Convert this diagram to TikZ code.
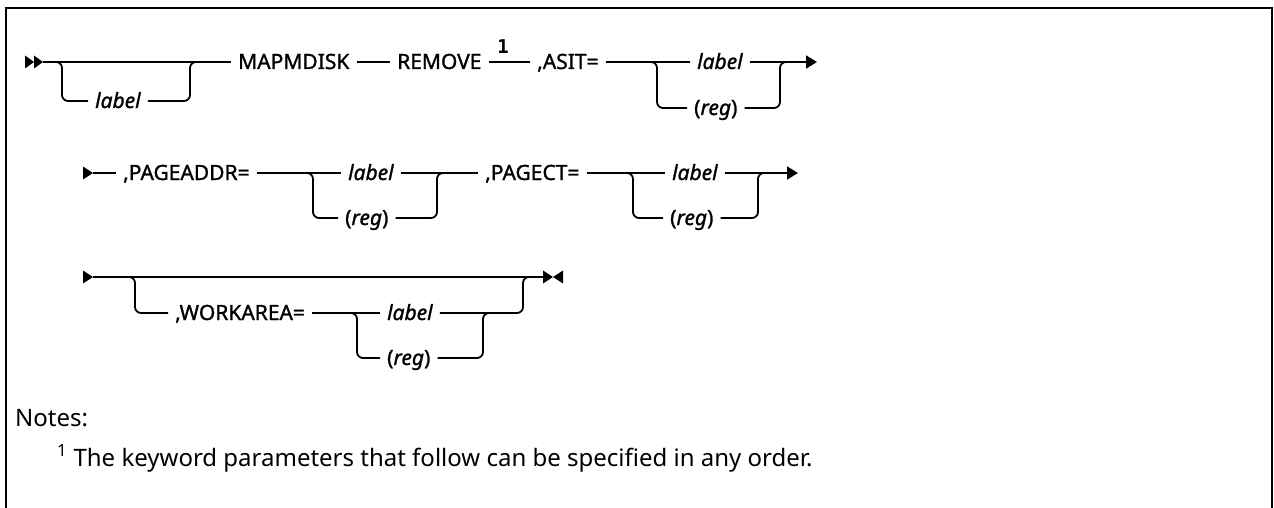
\documentclass[tikz,border=0pt]{standalone}
\usepackage{fontspec}
\setmainfont{Noto Sans}
\newfontfamily\dfont{Noto Sans}[FakeBold=1.2]
\newfontfamily\monofnt{DejaVu Sans Mono}
\usetikzlibrary{arrows.meta}
\begin{document}
\begin{tikzpicture}[x=1pt,y=-1pt,
  rr/.style={line width=1.8pt, rounded corners=6pt},
  kw/.style={inner xsep=7pt, inner ysep=0pt, anchor=base west, font=\fontsize{21}{24}\dfont},
  var/.style={kw, font=\fontsize{21}{24}\dfont\itshape},
  endarrow/.style={-{Triangle[length=11pt,width=13pt]}},
  notetext/.style={anchor=base west, inner sep=0pt, font=\fontsize{24}{28}\selectfont}]
\useasboundingbox (0,0) rectangle (1274,508);
% frame
\draw[line width=2.5pt] (6,508) -- (6,8) -- (1272,8) -- (1272,508);

% ---------- row 1 ----------
\coordinate (r1) at (0,62);
\coordinate (st1) at (25,62);
\coordinate (st1b) at (43,62);
\fill (st1) ++(0,-6.5) -- ++(9,6.5) -- ++(-9,6.5) -- cycle;
\fill (st1) ++(9,-6.5) -- ++(9,6.5) -- ++(-9,6.5) -- cycle;

\node[var] (l1) at (88,108) {label};
\node[kw] (mapm) at (231,69) {MAPMDISK};
\node[kw] (remove) at (390,69) {REMOVE};
\node[inner sep=0pt, anchor=base, font=\fontsize{19}{20}\selectfont\monofnt\bfseries] (n1) at (503,54) {1};
\node[kw] (asit) at (530,69) {,ASIT=};
\node[var] (asl) at (690,69) {label};
\node[kw] (asr) at (687,115) {(\textit{reg})};

\draw[rr] (st1b) -- (mapm.west|-r1);
\coordinate (j1a) at (52,62); \coordinate (v1a) at (62,101);
\coordinate (v1b) at (190,101); \coordinate (j1b) at (198,62);
\draw[rr] (j1a) -| (v1a) -- (l1.west|-v1a);
\draw[rr] (l1.east|-v1b) -- (v1b) |- (j1b);
\draw[rr] (mapm.east|-r1) -- (remove.west|-r1);
\draw[rr] (remove.east|-r1) -- (asit.west|-r1);
\draw[rr] (asit.east|-r1) -- (asl.west|-r1);
\coordinate (j2a) at (649,62); \coordinate (v2a) at (657,108);
\coordinate (v2b) at (780,108); \coordinate (j2b) at (788,62);
\coordinate (e1) at (817,62);
\draw[rr] (j2a) -| (v2a) -- (asr.west|-v2a);
\draw[rr] (asr.east|-v2b) -- (v2b) |- (j2b);
\draw[rr,endarrow] (asl.east|-r1) -- (e1);

% ---------- row 2 ----------
\coordinate (r2) at (0,173);
\coordinate (st2) at (83,173);
\coordinate (st2b) at (93,173);
\fill (st2) ++(0,-6.5) -- ++(10,6.5) -- ++(-10,6.5) -- cycle;
\node[kw] (pa) at (116,180) {,PAGEADDR=};
\node[var] (pal) at (341,180) {label};
\node[kw] (par) at (338,225) {(\textit{reg})};
\node[kw] (pc) at (478,180) {,PAGECT=};
\node[var] (pcl) at (665,180) {label};
\node[kw] (pcr) at (663,225) {(\textit{reg})};

\draw[rr] (st2b) -- (pa.west|-r2);
\draw[rr] (pa.east|-r2) -- (pal.west|-r2);
\coordinate (j3a) at (305,173); \coordinate (v3a) at (313,218);
\coordinate (v3b) at (437,218); \coordinate (j3b) at (445,173);
\draw[rr] (j3a) -| (v3a) -- (par.west|-v3a);
\draw[rr] (par.east|-v3b) -- (v3b) |- (j3b);
\draw[rr] (pal.east|-r2) -- (pc.west|-r2);
\draw[rr] (pc.east|-r2) -- (pcl.west|-r2);
\coordinate (j4a) at (625,173); \coordinate (v4a) at (633,218);
\coordinate (v4b) at (758,218); \coordinate (j4b) at (766,173);
\coordinate (e2) at (798,173);
\draw[rr] (j4a) -| (v4a) -- (pcr.west|-v4a);
\draw[rr] (pcr.east|-v4b) -- (v4b) |- (j4b);
\draw[rr,endarrow] (pcl.east|-r2) -- (e2);

% ---------- row 3 ----------
\coordinate (r3) at (0,277);
\coordinate (st3) at (83,277);
\coordinate (st3b) at (93,277);
\coordinate (e3) at (543,277);
\fill (st3) ++(0,-6.5) -- ++(10,6.5) -- ++(-10,6.5) -- cycle;
\draw[rr] (st3b) -- (e3);
\fill (e3) ++(0,-6.5) -- ++(10,6.5) -- ++(-10,6.5) -- cycle;
\fill (e3) ++(20,-6.5) -- ++(-10,6.5) -- ++(10,6.5) -- cycle;

\node[kw] (wa) at (168,320) {,WORKAREA=};
\node[var] (wal) at (380,320) {label};
\node[kw] (war) at (380,365) {(\textit{reg})};
\coordinate (j5a) at (127,277); \coordinate (v5a) at (135,313);
\coordinate (j6a) at (349,313); \coordinate (v6a) at (357,358);
\coordinate (v6b) at (483,358); \coordinate (j6b) at (491,313);
\coordinate (v5b) at (523,313); \coordinate (j5b) at (531,277);
\draw[rr] (j5a) -| (v5a) -- (wa.west|-v5a);
\draw[rr] (wa.east|-v5a) -- (wal.west|-v5a);
\draw[rr] (j6a) -| (v6a) -- (war.west|-v6a);
\draw[rr] (war.east|-v6b) -- (v6b) |- (j6b);
\draw[rr] (wal.east|-v5b) -- (v5b) |- (j5b);

% ---------- notes ----------
\node[notetext] (notes) at (15,426) {Notes:};
\node[notetext] (fn) at (57,466) {\textsuperscript{1} The keyword parameters that follow can be specified in any order.};
\end{tikzpicture}
\end{document}
